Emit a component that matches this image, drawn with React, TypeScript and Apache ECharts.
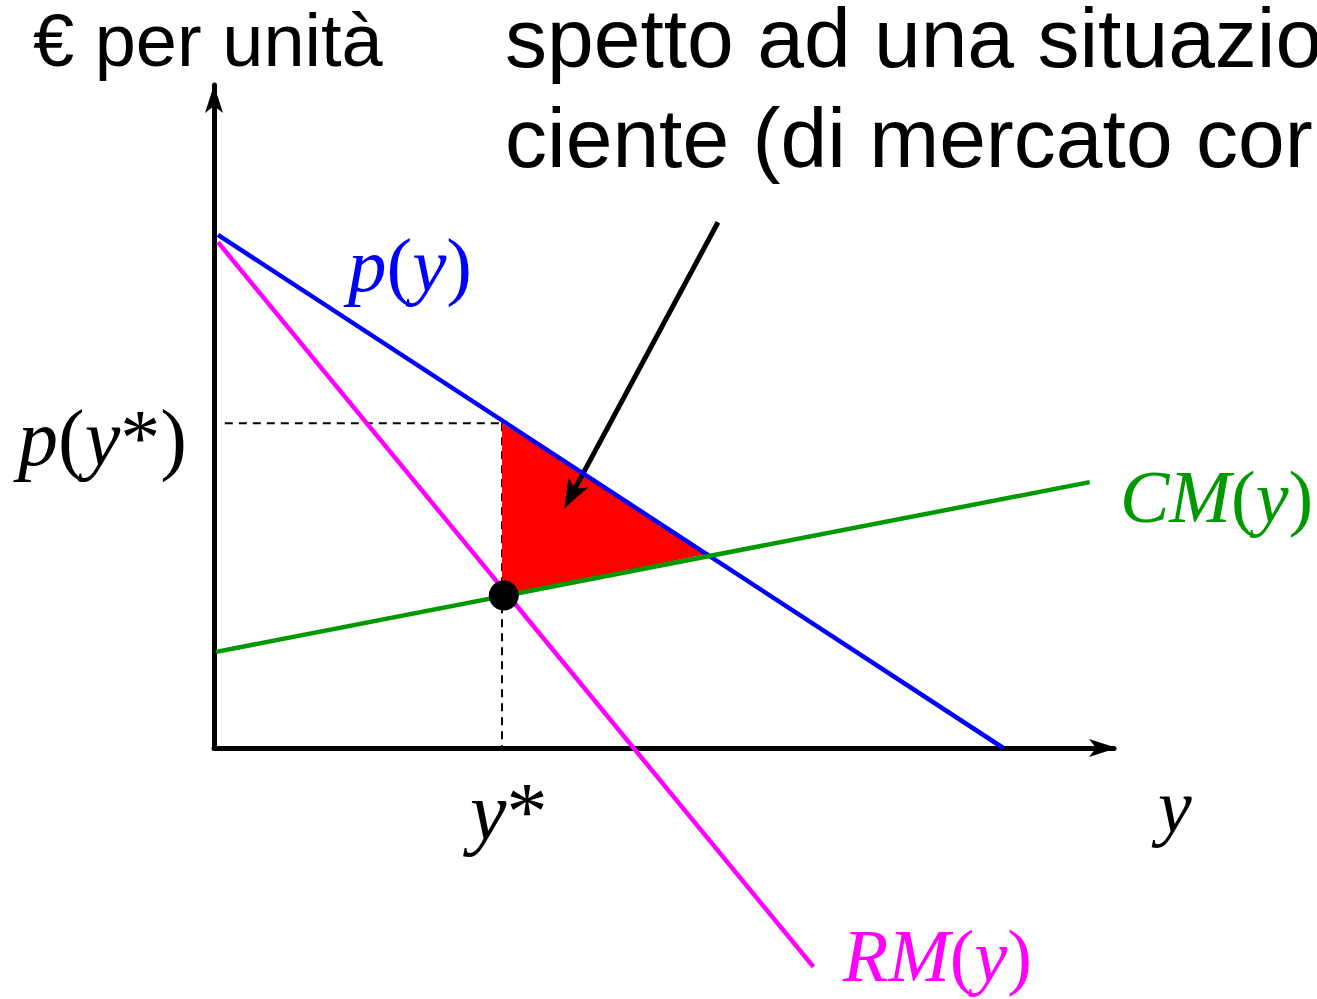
import React, { useEffect, useRef } from 'react';
import * as echarts from 'echarts';

// Economic diagram data (x: quantity y, y: € per unit)
const demandCurve: number[][] = [[0.044, 7.74], [8.77, 0]];
const marginalRevenue: number[][] = [[0.044, 7.63], [6.66, -3.3]];
const marginalCost: number[][] = [[0.022, 1.45], [9.73, 4.01]];
const priceGuide: number[][] = [[0.12, 4.9], [3.2, 4.9]];
const qtyGuide: number[][] = [[3.2, 4.9], [3.2, 0]];
const deadweightTriangle: number[][] = [[3.2, 4.9], [3.2, 2.29], [5.49, 2.93]];
const equilibriumPoint: number[][] = [[3.22, 2.3]];
const pointerArrow: number[][] = [[5.6, 7.93], [3.97, 3.81]];

const titleLines = ['spetto ad una situazio', 'ciente (di mercato cor'];
const yAxisTitle = '€ per unità';

const ARROW = 'path://M9,0 L18,28 L9,21 L0,28 Z';
const SERIF = 'Liberation Serif';
const SANS = 'Liberation Sans';

function mathText(x: number, y: number, text: string, color: string, size = 74) {
  return {
    type: 'text',
    x,
    y,
    z: 100,
    style: {
      text,
      rich: {
        i: { fontFamily: SERIF, fontStyle: 'italic', fontSize: size, fill: color },
        n: { fontFamily: SERIF, fontStyle: 'normal', fontSize: size, fill: color },
      },
      fill: color,
      font: `${size}px ${SERIF}`,
      verticalAlign: 'middle',
      align: 'left',
    },
  };
}

export default function App() {
  const ref = useRef<HTMLDivElement>(null);

  useEffect(() => {
    if (!ref.current) return;
    const chart = echarts.init(ref.current, undefined, { renderer: 'svg' });

    const axisCommon = {
      type: 'value' as const,
      min: 0,
      max: 10,
      axisTick: { show: false },
      axisLabel: { show: false },
      splitLine: { show: false },
    };

    const option: any = {
      animation: false,
      backgroundColor: '#ffffff',
      grid: { left: 214, right: 203, top: 85, bottom: 251, containLabel: false },
      xAxis: {
        ...axisCommon,
        axisLine: {
          show: true,
          onZero: true,
          symbol: ['none', ARROW],
          symbolSize: [18, 28],
          symbolOffset: [0, -11],
          lineStyle: { color: '#000', width: 5 },
        },
      },
      yAxis: {
        ...axisCommon,
        axisLine: {
          show: true,
          onZero: true,
          symbol: ['none', ARROW],
          symbolSize: [18, 28],
          symbolOffset: [0, -14],
          lineStyle: { color: '#000', width: 5 },
        },
      },
      series: [
        {
          type: 'line',
          data: priceGuide,
          symbol: 'none',
          silent: true,
          z: 2,
          lineStyle: { color: '#000', width: 2, type: [8, 6] },
        },
        {
          type: 'line',
          data: qtyGuide,
          symbol: 'none',
          silent: true,
          z: 2,
          lineStyle: { color: '#000', width: 2, type: [8, 6] },
        },
        {
          type: 'custom',
          silent: true,
          z: 3,
          clip: false,
          data: [deadweightTriangle[0]],
          renderItem: (_params: any, api: any) => ({
            type: 'polygon',
            shape: { points: deadweightTriangle.map((p) => api.coord(p)) },
            style: { fill: '#ff0000', stroke: 'none' },
          }),
        },
        {
          type: 'line',
          data: marginalRevenue,
          symbol: 'none',
          silent: true,
          clip: false,
          z: 4,
          lineStyle: { color: '#ff00ff', width: 4.5 },
        },
        {
          type: 'line',
          data: demandCurve,
          symbol: 'none',
          silent: true,
          clip: false,
          z: 5,
          lineStyle: { color: '#0000ff', width: 4.5 },
        },
        {
          type: 'line',
          data: marginalCost,
          symbol: 'none',
          silent: true,
          clip: false,
          z: 6,
          lineStyle: { color: '#009900', width: 4.5 },
        },
        {
          type: 'scatter',
          data: equilibriumPoint,
          symbol: 'circle',
          symbolSize: 30,
          silent: true,
          z: 8,
          itemStyle: { color: '#000', opacity: 1 },
        },
        {
          type: 'line',
          data: [],
          silent: true,
          z: 9,
          markLine: {
            silent: true,
            animation: false,
            label: { show: false },
            symbol: ['none', ARROW],
            symbolSize: [22, 30],
            lineStyle: { color: '#000', width: 5, type: 'solid' },
            emphasis: { disabled: true },
            data: [
              [
                { coord: pointerArrow[0] },
                { coord: pointerArrow[1] },
              ],
            ],
          },
        },
      ],
      graphic: [
        {
          type: 'text',
          x: 33,
          y: 40,
          z: 100,
          style: {
            text: yAxisTitle,
            font: `74px ${SANS}`,
            fill: '#000',
            verticalAlign: 'middle',
          },
        },
        {
          type: 'text',
          x: 505,
          y: 38,
          z: 100,
          style: {
            text: titleLines[0],
            font: `84px ${SANS}`,
            fill: '#000',
            verticalAlign: 'middle',
          },
        },
        {
          type: 'text',
          x: 505,
          y: 138,
          z: 100,
          style: {
            text: titleLines[1],
            font: `84px ${SANS}`,
            fill: '#000',
            verticalAlign: 'middle',
          },
        },
        mathText(348, 265, '{i|p}{n|(}{i|y}{n|)}', '#0000ff', 77),
        mathText(18, 438, '{i|p}{n|(}{i|y}{n|*)}', '#000000', 80),
        mathText(1120, 497, '{i|CM}{n|(}{i|y}{n|)}', '#009900', 74),
        mathText(843, 956, '{i|RM}{n|(}{i|y}{n|)}', '#ff00ff', 74),
        mathText(470, 811, '{i|y}{n|*}', '#000000', 82),
        mathText(1158, 806, '{i|y}', '#000000', 76),
      ],
    };

    chart.setOption(option);
    return () => chart.dispose();
  }, []);

  return (
    <div
      ref={ref}
      style={{ position: 'absolute', left: 0, top: 0, width: 1317, height: 999 }}
    />
  );
}
